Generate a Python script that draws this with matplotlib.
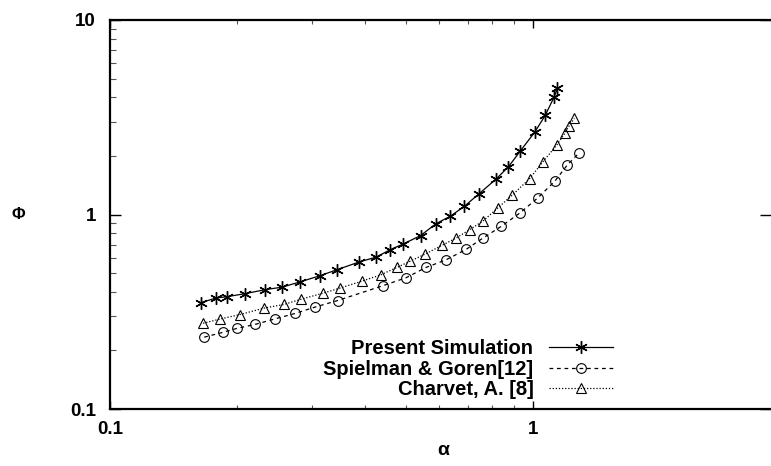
import matplotlib
matplotlib.use("Agg")
import matplotlib.pyplot as plt
from matplotlib.ticker import FixedLocator, NullFormatter

plt.rcParams["font.family"] = ["Liberation Sans", "DejaVu Sans"]
plt.rcParams["font.weight"] = "bold"

# values
alpha_sim = [0.164, 0.178, 0.189, 0.209, 0.233, 0.255, 0.282, 0.314, 0.344,
             0.387, 0.426, 0.460, 0.493, 0.542, 0.590, 0.637, 0.688, 0.746,
             0.818, 0.874, 0.932, 1.009, 1.068, 1.121, 1.142]
phi_sim = [0.352, 0.372, 0.378, 0.392, 0.411, 0.423, 0.451, 0.485, 0.520,
           0.569, 0.604, 0.660, 0.705, 0.779, 0.898, 0.979, 1.102, 1.281,
           1.523, 1.757, 2.115, 2.651, 3.232, 4.013, 4.466]

alpha_sg = [0.167, 0.185, 0.200, 0.220, 0.246, 0.274, 0.305, 0.345, 0.441,
            0.501, 0.558, 0.622, 0.694, 0.763, 0.840, 0.933, 1.025, 1.125,
            1.205, 1.282]
phi_sg = [0.234, 0.248, 0.260, 0.272, 0.291, 0.310, 0.334, 0.361, 0.430,
          0.473, 0.534, 0.584, 0.661, 0.759, 0.868, 1.022, 1.216, 1.481,
          1.799, 2.063]

alpha_ch = [0.166, 0.182, 0.203, 0.231, 0.258, 0.283, 0.319, 0.349, 0.395,
            0.437, 0.477, 0.513, 0.554, 0.609, 0.658, 0.708, 0.760, 0.825,
            0.892, 0.982, 1.054, 1.137, 1.188, 1.214, 1.252]
phi_ch = [0.276, 0.290, 0.306, 0.330, 0.345, 0.367, 0.394, 0.418, 0.455,
          0.490, 0.535, 0.576, 0.624, 0.694, 0.757, 0.836, 0.923, 1.080,
          1.256, 1.531, 1.863, 2.272, 2.610, 2.836, 3.118]

labels = ["Present Simulation", "Spielman & Goren[12]", "Charvet, A. [8]"]

fig = plt.figure(figsize=(7.71, 4.66), dpi=100)
ax = fig.add_axes([110 / 771, 57 / 466, 661 / 771, 389 / 466])

ax.plot(alpha_sim, phi_sim, color="black", lw=0.9, ls="-",
        marker=(6, 2, 0), ms=9, mew=1.0, label=labels[0])
ax.plot(alpha_sg, phi_sg, color="black", lw=0.9, ls=(0, (3, 3)),
        marker="o", ms=7, mfc="none", mew=0.8, label=labels[1])
ax.plot(alpha_ch, phi_ch, color="black", lw=0.9, ls=(0, (1, 1.5)),
        marker="^", ms=7, mfc="none", mew=0.8, label=labels[2])

ax.set_xscale("log")
ax.set_yscale("log")
ax.set_xlim(0.1, 3.65)
ax.set_ylim(0.1, 10)

ax.xaxis.set_major_locator(FixedLocator([0.1, 1]))
ax.xaxis.set_minor_locator(FixedLocator([0.2, 0.3, 0.4, 0.5, 0.6, 0.7, 0.8, 0.9]))
ax.xaxis.set_minor_formatter(NullFormatter())
ax.set_xticklabels(["0.1", "1"])
ax.yaxis.set_major_locator(FixedLocator([0.1, 1, 10]))
ax.yaxis.set_minor_locator(FixedLocator(
    [k * 0.1 for k in range(2, 10)] + [k * 1.0 for k in range(2, 10)]))
ax.yaxis.set_minor_formatter(NullFormatter())
ax.set_yticklabels(["0.1", "1", "10"])

# gnuplot look: inward ticks, thick frame without the right edge
ax.spines["right"].set_visible(False)
for side in ["left", "bottom", "top"]:
    ax.spines[side].set_linewidth(1.6)
ax.tick_params(which="both", direction="in", top=True, right=False,
               labelsize=13.5)
ax.tick_params(axis="x", which="major", length=6, width=1.0, pad=9)
ax.tick_params(axis="x", which="minor", length=3, width=0.8, color="#555555")
ax.tick_params(axis="y", which="major", length=8, width=1.0, pad=10,
               right=True)
ax.tick_params(axis="y", which="minor", length=4, width=0.8, color="#555555")
for lab in ax.get_xticklabels() + ax.get_yticklabels():
    lab.set_fontweight("bold")

ax.set_xlabel("\u03b1", fontsize=14, fontweight="bold", va="center")
ax.xaxis.set_label_coords(0.504, -0.107)
ax.set_ylabel("\u03a6", fontsize=12, fontweight="bold", rotation=0,
              va="center", ha="center")
ax.yaxis.set_label_coords(-0.139, 0.5)

ax.legend(loc="lower right", bbox_to_anchor=((613 - 110) / 661, 0.025),
          frameon=False, markerfirst=False, fontsize=14.5,
          handlelength=3.2, handletextpad=0.75, labelspacing=0.08,
          borderpad=0, borderaxespad=0, numpoints=1)

fig.savefig("out.png", dpi=100)
